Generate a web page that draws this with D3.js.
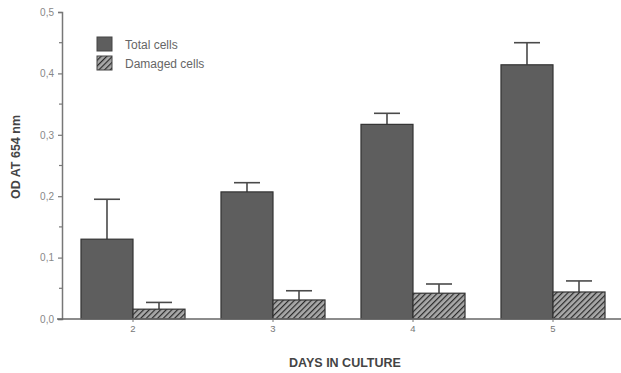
<!DOCTYPE html>
<html>
<head>
<meta charset="UTF-8">
<script src="https://d3js.org/d3.v7.min.js"></script>
<style>
  body { margin: 0; background: #fff; }
  text { font-family: "Liberation Sans", Arial, sans-serif; }
</style>
</head>
<body>
<div id="chart"></div>
<script>
// data
var days = ["2", "3", "4", "5"];
var series = ["Total cells", "Damaged cells"];
var totalCells = [0.130, 0.207, 0.317, 0.414];
var totalErr = [0.065, 0.015, 0.018, 0.036];
var damagedCells = [0.016, 0.031, 0.042, 0.044];
var damagedErr = [0.011, 0.015, 0.015, 0.018];
var yTicks = [0, 0.1, 0.2, 0.3, 0.4, 0.5];

var W = 621, H = 373;
var svg = d3.select("#chart").append("svg")
  .attr("width", W).attr("height", H);

var defs = svg.append("defs");
var pat = defs.append("pattern")
  .attr("id", "hatch")
  .attr("patternUnits", "userSpaceOnUse")
  .attr("width", 4).attr("height", 4)
  .attr("patternTransform", "rotate(45)");
pat.append("rect").attr("width", 4).attr("height", 4).attr("fill", "#a8a8a8");
pat.append("line").attr("x1", 0).attr("y1", 0).attr("x2", 0).attr("y2", 4)
  .attr("stroke", "#2a2a2a").attr("stroke-width", 2.4);

var x0 = d3.scaleBand().domain(days).range([63, 623])
  .paddingInner(0.257).paddingOuter(0.1285);
var x1 = d3.scaleBand().domain(series).range([0, x0.bandwidth()]);
var y = d3.scaleLinear().domain([0, 0.5]).range([319, 12]);

var fills = { "Total cells": "#5e5e5e", "Damaged cells": "url(#hatch)" };

var rows = days.map(function(d, i) {
  return [
    { day: d, s: "Total cells", v: totalCells[i], e: totalErr[i] },
    { day: d, s: "Damaged cells", v: damagedCells[i], e: damagedErr[i] }
  ];
});
var bars = [].concat.apply([], rows);

// error bars first, bars over them
var eb = svg.append("g").attr("stroke", "#4a4a4a").attr("stroke-width", 1.6);
bars.forEach(function(b) {
  var cx = x0(b.day) + x1(b.s) + x1.bandwidth() / 2;
  eb.append("line").attr("x1", cx).attr("x2", cx)
    .attr("y1", y(b.v)).attr("y2", y(b.v + b.e));
  eb.append("line").attr("x1", cx - 13).attr("x2", cx + 13)
    .attr("y1", y(b.v + b.e)).attr("y2", y(b.v + b.e));
});

svg.append("g").selectAll("rect")
  .data(bars).enter().append("rect")
  .attr("x", function(d) { return x0(d.day) + x1(d.s); })
  .attr("y", function(d) { return y(d.v); })
  .attr("width", x1.bandwidth())
  .attr("height", function(d) { return y(0) - y(d.v); })
  .attr("fill", function(d) { return fills[d.s]; })
  .attr("stroke", "#333")
  .attr("stroke-width", 1.2);

// y axis
var yAxis = d3.axisLeft(y).tickValues(yTicks).tickSize(4).tickPadding(4)
  .tickFormat(function(d) { return d3.format(".1f")(d).replace(".", ","); });
var gy = svg.append("g").attr("transform", "translate(62,0)").call(yAxis);
gy.select(".domain").attr("stroke", "#777").attr("stroke-width", 1.5);
gy.selectAll(".tick line").attr("stroke", "#777").attr("stroke-width", 1.2);
gy.selectAll(".tick text").attr("fill", "#888").style("font-size", "10px");
// minor ticks
gy.selectAll(".minor").data([0.05, 0.15, 0.25, 0.35, 0.45]).enter()
  .append("line").attr("class", "minor")
  .attr("x1", -3).attr("x2", 0)
  .attr("y1", function(d) { return y(d); }).attr("y2", function(d) { return y(d); })
  .attr("stroke", "#777").attr("stroke-width", 1.2);

// x axis
var xAxis = d3.axisBottom(x0).tickSize(3).tickPadding(3);
var gx = svg.append("g").attr("transform", "translate(0,319)").call(xAxis);
gx.select(".domain").attr("d", "M57,0H621").attr("stroke", "#666").attr("stroke-width", 1.5);
gx.selectAll(".tick line").attr("stroke", "#777");
gx.selectAll(".tick text").attr("fill", "#777").style("font-size", "9.5px");

// titles
svg.append("text").attr("x", 345).attr("y", 367).attr("text-anchor", "middle")
  .style("font-size", "12.5px").style("font-weight", "bold").attr("fill", "#444")
  .text("DAYS IN CULTURE");
svg.append("text").attr("transform", "translate(20,157) rotate(-90)")
  .attr("text-anchor", "middle")
  .style("font-size", "12.5px").style("font-weight", "bold").attr("fill", "#444")
  .text("OD AT 654 nm");

// legend
var lg = svg.append("g").attr("transform", "translate(97,37)");
series.forEach(function(s, i) {
  lg.append("rect").attr("x", 0).attr("y", i * 19).attr("width", 15).attr("height", 14)
    .attr("fill", fills[s]).attr("stroke", "#444").attr("stroke-width", 1);
  lg.append("text").attr("x", 28).attr("y", i * 19 + 11.5)
    .style("font-size", "12px").attr("fill", "#666").text(s);
});
</script>
</body>
</html>
